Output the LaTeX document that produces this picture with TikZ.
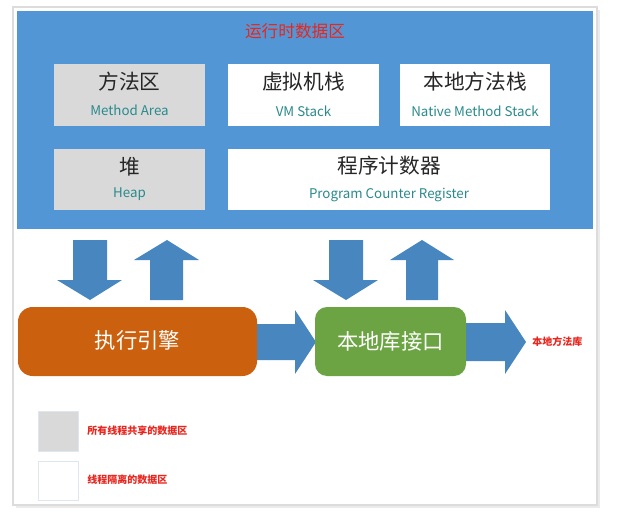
\documentclass[tikz,border=0pt]{standalone}
\usepackage{fontspec}
\setmainfont{Noto Sans CJK SC}
\usetikzlibrary{fit}
\definecolor{areablue}{RGB}{83,150,213}
\definecolor{arrowblue}{RGB}{72,134,192}
\definecolor{sharedgray}{RGB}{217,217,217}
\definecolor{engorange}{RGB}{203,96,14}
\definecolor{libgreen}{RGB}{108,164,68}
\definecolor{tealtext}{RGB}{42,138,140}
\definecolor{redtext}{RGB}{232,38,30}
\definecolor{framegray}{RGB}{220,220,220}
\definecolor{legendedge}{RGB}{222,230,240}
\tikzset{
  area/.style={inner sep=0pt, outer sep=0pt},
  cnlabel/.style={font=\fontsize{15.5}{18}\selectfont, text=black!85, inner sep=0pt},
  enlabel/.style={font=\fontsize{10}{12}\selectfont, text=tealtext, inner sep=0pt},
  blockarrow/.style={fill=arrowblue, draw=none},
  enginelabel/.style={font=\fontsize{16}{19}\selectfont, text=white, inner sep=0pt},
  redsmall/.style={font=\bfseries\fontsize{7.5}{9}\selectfont, text=redtext, inner sep=0pt, anchor=west},
}
\begin{document}
\begin{tikzpicture}[x=0.75pt,y=-0.75pt]
\useasboundingbox (0,0) rectangle (635,524);
\fill[white] (0,0) rectangle (635,524);
% frame with shadow
\fill[black!8] (16,10) rectangle (600,508);
\node[area, fit={(13,7) (597,505)}, fill=white, draw=framegray, line width=2.2pt] (frame) {};
% runtime data area
\node[area, fit={(17,11) (593,229)}, fill=areablue] (runtime) {};
\node[font=\fontsize{12.5}{15}\selectfont, text=redtext, inner sep=0pt] (title) at (295,31) {运行时数据区};
% boxes
\node[area, fit={(54,64) (205,126)}, fill=sharedgray] (method) {};
\node[area, fit={(228,64) (379,126)}, fill=white] (vmstack) {};
\node[area, fit={(400,64) (550,126)}, fill=white] (native) {};
\node[area, fit={(54,149) (205,210)}, fill=sharedgray] (heap) {};
\node[area, fit={(228,149) (550,210)}, fill=white] (pc) {};
\node[cnlabel] (methodcn) at (129.5,82) {方法区};
\node[enlabel] (methoden) at (129.5,110) {Method Area};
\node[cnlabel] (vmcn) at (303.5,82) {虚拟机栈};
\node[enlabel] (vmen) at (303.5,111) {VM Stack};
\node[cnlabel] (nativecn) at (475,82) {本地方法栈};
\node[enlabel] (nativeen) at (475,111) {Native Method Stack};
\node[cnlabel] (heapcn) at (129.5,167) {堆};
\node[enlabel] (heapen) at (129.5,194) {Heap};
\node[cnlabel] (pccn) at (389,166) {程序计数器};
\node[enlabel] (pcen) at (389,195) {Program Counter Register};
% vertical block arrows
\path[blockarrow] (73,240) -- (107,240) -- (107,280) -- (122,280) -- (90,300) -- (57,280) -- (73,280) -- cycle;
\path[blockarrow] (150,300) -- (183,300) -- (183,260) -- (199,260) -- (167,240) -- (134,260) -- (150,260) -- cycle;
\path[blockarrow] (329,240) -- (363,240) -- (363,280) -- (378,280) -- (346,300) -- (313,280) -- (329,280) -- cycle;
\path[blockarrow] (406,300) -- (438,300) -- (438,260) -- (454,260) -- (422,240) -- (390,260) -- (406,260) -- cycle;
% horizontal block arrows
\path[blockarrow] (250,324) -- (295,324) -- (295,310) -- (316,342) -- (295,374) -- (295,360) -- (250,360) -- cycle;
\path[blockarrow] (460,323) -- (505,323) -- (505,310) -- (526,342) -- (505,374) -- (505,361) -- (460,361) -- cycle;
% engine and interface
\node[area, fit={(18,307) (257,376)}, fill=engorange, rounded corners=11pt] (engine) {};
\node[enginelabel] (enginetext) at (137.5,340) {执行引擎};
\node[area, fit={(315,307) (466,376)}, fill=libgreen, rounded corners=9pt] (jni) {};
\node[enginelabel] (jnitext) at (390.5,341) {本地库接口};
\node[redsmall] (nativelib) at (532,342) {本地方法库};
% legend
\node[area, fit={(38,411) (78,451)}, fill=sharedgray, draw=legendedge, line width=0.6pt] (legshared) {};
\node[area, fit={(38,461) (78,500)}, fill=white, draw=legendedge, line width=0.6pt] (legprivate) {};
\node[redsmall] (legsharedtext) at (87,431) {所有线程共享的数据区};
\node[redsmall] (legprivatetext) at (87,480) {线程隔离的数据区};
\end{tikzpicture}
\end{document}
